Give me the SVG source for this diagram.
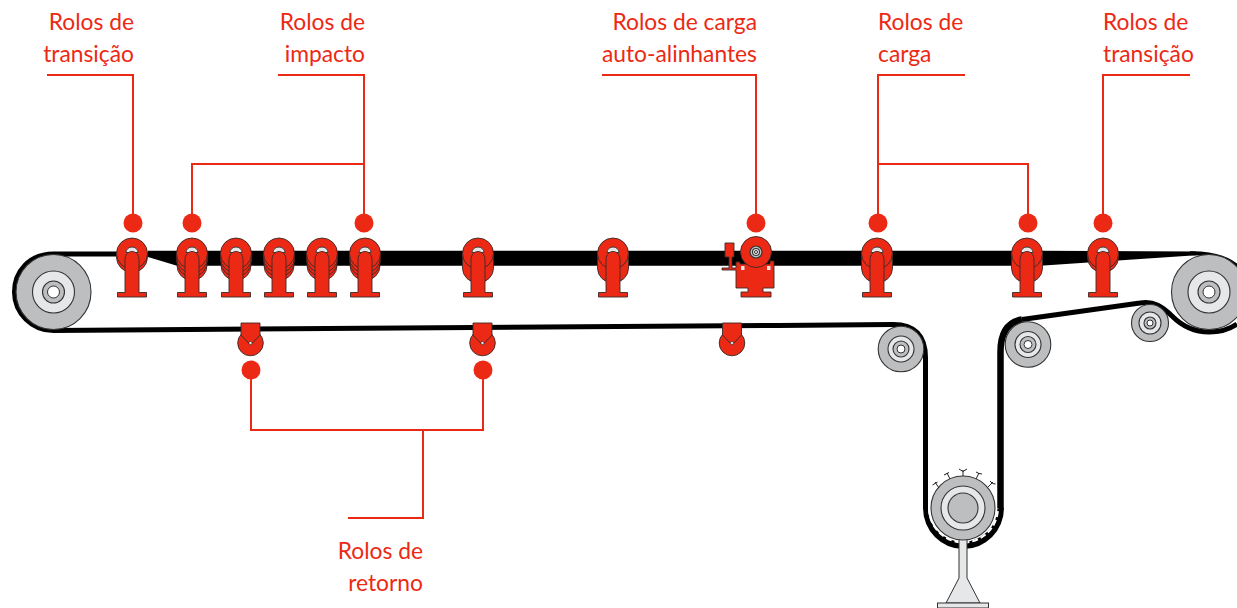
<svg xmlns="http://www.w3.org/2000/svg" xmlns:xlink="http://www.w3.org/1999/xlink" width="1237" height="608" viewBox="0 0 1237 608">
<style>
text{font-family:"Lato","Liberation Sans",sans-serif;font-size:22.800px;fill:#ec2914}
.e{text-anchor:end}
.lead{fill:none;stroke:#ec2914;stroke-width:2}
.dot{fill:#ec2914}
.r{fill:#ec2914;stroke:#3a2a28;stroke-width:.9}
.g{fill:#bdbec0;stroke:#333;stroke-width:1.1}
.l{fill:#e6e7e8;stroke:#333;stroke-width:1.1}
.w{fill:#fff;stroke:#333;stroke-width:1}
.belt{fill:none;stroke:#000;stroke-linejoin:round}
</style>
<defs>
<g id="front">
<circle class="r" cx="0" cy="253.500" r="15.500"/>
<path d="M-6 252.500a6 5.500 0 0 1 12 0z" fill="#e6e7e8" stroke="#333" stroke-width=".9"/>
<path class="r" d="M-14.500 297v-4.500h7.500v-33c0-5 3.500-8 7-8s7 3 7 8v33h7.500v4.500z"/>
</g>
<g id="short"><circle class="r" cx="0" cy="257" r="15.500"/></g>
<g id="long"><path class="r" d="M-15.500 253v15a15.500 15 0 0 0 31 0v-15z"/></g>
<g id="stack">
<circle class="r" cx="0" cy="265.500" r="15"/>
<circle class="r" cx="0" cy="261.500" r="15.200"/>
<circle class="r" cx="0" cy="257.500" r="15.500"/>
</g>
<g id="ret">
<circle class="r" cx="0" cy="20" r="12.800"/>
<path class="r" d="M-9.500 0h19v12l-9 9.500h-1l-9-9.500z"/>
<circle cx="0" cy="20" r="1.600" fill="#e6e7e8" stroke="#333" stroke-width=".6"/>
</g>
<g id="pb">
<circle class="g" r="37.500"/><circle class="l" r="21"/><circle class="g" r="11"/><circle class="w" r="6"/>
</g>
<g id="pm">
<circle class="g" r="22.800"/><circle class="l" r="13"/><circle class="g" r="8"/><circle class="w" r="4"/>
</g>
<g id="ps">
<circle class="g" r="18.500"/><circle class="l" r="11"/><circle class="g" r="6"/><circle class="w" r="3"/>
</g>
</defs>

<g id="connectors">
<path class="belt" stroke-width="5" d="M118 254H53.500C29 254 14.500 272 14.500 292C14.500 313 32 330.500 53.500 330.500C300 329 600 327 892 324.500C915 324 925.500 336 925.500 358V508"/>
<path class="belt" stroke-width="6.500" d="M1000.500 508V352C1000.500 333 1008 322 1022 319.500"/>
<path class="belt" stroke-width="5" d="M1022 319.500L1140 303C1154 300.500 1163 307 1172 316C1183 327 1195 332 1209 332C1220 332 1230 329 1237 324"/>
<path d="M118 252H148V250.700H1040L1196 251.500V255.300L1040 265.700H177L148 257H118z" fill="#000"/>
<path class="belt" stroke-width="4" d="M1190 253.300C1208 253 1226 257 1237 266"/>
<path class="lead" d="M47 75H133V215"/>
<path class="lead" d="M278 75H364V215M364 164H192V215"/>
<path class="lead" d="M602 75H756V215"/>
<path class="lead" d="M965 75H878V215M878 164H1028V215"/>
<path class="lead" d="M1190 75H1103V215"/>
<path class="lead" d="M251 378V430H483V378M423 430V518H348"/>
</g>

<g id="pulley-left"><use xlink:href="#pb" x="53.500" y="292"/></g>
<g id="pulley-right"><use xlink:href="#pb" x="1209" y="292"/></g>
<g id="pulley-return-1"><use xlink:href="#pm" x="901" y="349"/></g>
<g id="pulley-return-2"><use xlink:href="#pm" x="1028" y="344.500"/></g>
<g id="pulley-return-3"><use xlink:href="#ps" x="1150" y="323"/></g>
<g id="drive">
<path d="M923 508A40.500 41 0 0 0 1004 508H997.500A34 33 0 0 1 928 508Z" fill="#000"/>
<path d="M929 508A34.500 34.500 0 0 0 998 508" fill="none" stroke="#fff" stroke-width="2" stroke-dasharray="6 3"/>
<path d="M959 538V578L946 603H980L967 578V538z" fill="#e6e7e8" stroke="#333" stroke-width="1"/>
<rect x="937.500" y="603" width="51" height="5" fill="#e6e7e8" stroke="#333" stroke-width="1"/>
<circle class="g" cx="963" cy="508" r="32"/>
<circle class="l" cx="963" cy="508" r="22"/>
<circle class="g" cx="963" cy="508" r="15"/>
<path d="M939 488l-4-6m-2.500 3l5-3M950 479l-3-6m-3 2l5-2.500M963 476v-6m-4-1l4 2.500l4-2.500M976 479l3-6m-3-1l3 1.500l3 .5M988 487l5-5m-3-1l2.500 2.500l3 .5" fill="none" stroke="#222" stroke-width="1"/>
</g>

<g id="roller-transition-1"><g transform="translate(132 0)"><use xlink:href="#short"/><use xlink:href="#front"/></g></g>
<g id="roller-impact-1"><g transform="translate(192 0)"><use xlink:href="#stack"/><use xlink:href="#front"/></g></g>
<g id="roller-impact-2"><g transform="translate(236 0)"><use xlink:href="#stack"/><use xlink:href="#front"/></g></g>
<g id="roller-impact-3"><g transform="translate(279 0)"><use xlink:href="#stack"/><use xlink:href="#front"/></g></g>
<g id="roller-impact-4"><g transform="translate(322 0)"><use xlink:href="#stack"/><use xlink:href="#front"/></g></g>
<g id="roller-impact-5"><g transform="translate(365 0)"><use xlink:href="#stack"/><use xlink:href="#front"/></g></g>
<g id="roller-load-1"><g transform="translate(478 0)"><use xlink:href="#long"/><use xlink:href="#front"/></g></g>
<g id="roller-load-2"><g transform="translate(613 0)"><use xlink:href="#long"/><use xlink:href="#front"/></g></g>
<g id="roller-load-3"><g transform="translate(877 0)"><use xlink:href="#long"/><use xlink:href="#front"/></g></g>
<g id="roller-load-4"><g transform="translate(1027 0)"><use xlink:href="#long"/><use xlink:href="#front"/></g></g>
<g id="roller-transition-2"><g transform="translate(1103 0)"><use xlink:href="#short"/><use xlink:href="#front"/></g></g>

<g id="roller-self-aligning">
<path class="r" d="M725 243H734V257H732V268H736V262H740V264H770V261H774V288H763V292H771V297H741V292H748V288H736V270H722V268H729V257H725Z"/>
<rect x="741" y="266" width="3.500" height="4" fill="#e6e7e8"/>
<rect x="767" y="266" width="3.500" height="4" fill="#e6e7e8"/>
<circle class="r" cx="756" cy="252" r="15.500"/>
<circle class="g" cx="756" cy="252" r="6"/><circle class="l" cx="756" cy="252" r="3.500"/><circle class="w" cx="756" cy="252" r="1.500"/>
</g>

<g id="roller-return-1"><use xlink:href="#ret" x="250.500" y="323"/></g>
<g id="roller-return-2"><use xlink:href="#ret" x="482.500" y="323"/></g>
<g id="roller-return-3"><use xlink:href="#ret" x="732" y="323"/></g>

<g id="dots">
<circle class="dot" cx="133" cy="223" r="9.500"/>
<circle class="dot" cx="192" cy="223" r="9.500"/>
<circle class="dot" cx="364" cy="223" r="9.500"/>
<circle class="dot" cx="756" cy="223" r="9.500"/>
<circle class="dot" cx="878" cy="223" r="9.500"/>
<circle class="dot" cx="1028" cy="223" r="9.500"/>
<circle class="dot" cx="1103" cy="223" r="9.500"/>
<circle class="dot" cx="251" cy="370" r="9.500"/>
<circle class="dot" cx="483" cy="370" r="9.500"/>
</g>

<g id="labels">
<text class="e" x="134" y="30">Rolos de</text><text class="e" x="134" y="62">transição</text>
<text class="e" x="365" y="30">Rolos de</text><text class="e" x="365" y="62">impacto</text>
<text class="e" x="757" y="30">Rolos de carga</text><text class="e" x="757" y="62">auto-alinhantes</text>
<text x="878" y="30">Rolos de</text><text x="878" y="62">carga</text>
<text x="1103" y="30">Rolos de</text><text x="1103" y="62">transição</text>
<text class="e" x="423" y="559">Rolos de</text><text class="e" x="423" y="591">retorno</text>
</g>
</svg>
